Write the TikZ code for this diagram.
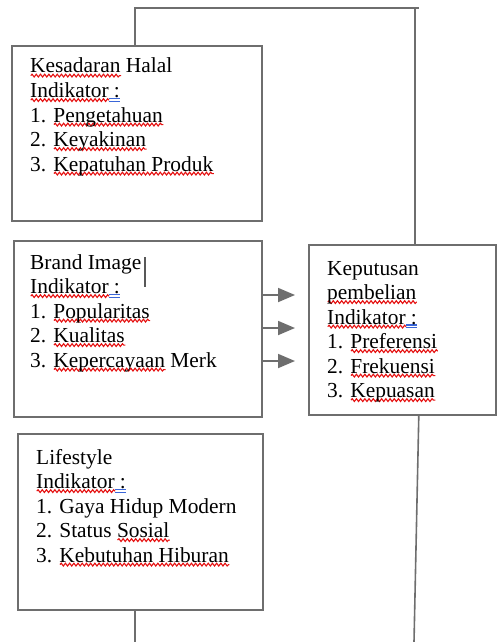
\documentclass[tikz,border=0pt]{standalone}
\usepackage{fontspec}
\setmainfont{Liberation Serif}
\usetikzlibrary{arrows.meta,decorations.pathmorphing}
\definecolor{linegray}{HTML}{6E6E6E}
\definecolor{sqred}{HTML}{E51010}
\definecolor{gblue}{HTML}{3A66D8}
\newdimen\sqw
\newsavebox\sqbox
\newcommand\sq[1]{\leavevmode\sbox\sqbox{#1}\sqw=\wd\sqbox\rlap{\smash{\tikz[baseline=0pt]\draw[sqred, line width=1.1pt, decorate, decoration={snake, amplitude=1.4pt, segment length=4.2pt}] (0pt,-2.6pt) -- (\the\sqw,-2.6pt);}}\usebox\sqbox}
\newcommand\bu[1]{\leavevmode\sbox\sqbox{#1}\sqw=\wd\sqbox\rlap{\textcolor{gblue}{\rlap{\rule[-1.5pt]{\sqw}{1.1pt}}\rule[-4.3pt]{\sqw}{1.1pt}}}\usebox\sqbox}
\tikzset{
  box/.style={draw=linegray, line width=1.6pt, anchor=north west, inner sep=0pt},
  txt/.style={anchor=base west, inner sep=0pt, font=\fontsize{21.4}{24.5}\selectfont},
  conn/.style={draw=linegray, line width=1.6pt},
  arr/.style={draw=linegray, line width=1.8pt, -{Triangle[length=17pt,width=14pt]}, fill=linegray}
}
\newcommand\txtblock[1]{\begin{minipage}[t]{270pt}\lineskiplimit=-20pt\raggedright #1\end{minipage}}
\begin{document}
\begin{tikzpicture}[x=1pt,y=-1pt]
\useasboundingbox (0,0) rectangle (496,642);
% boxes
\node[box, minimum width=250pt, minimum height=175pt] (b1) at (11,45) {};
\node[box, minimum width=248pt, minimum height=176pt] (b2) at (13,240) {};
\node[box, minimum width=187pt, minimum height=170pt] (kp) at (308,244) {};
\node[box, minimum width=245pt, minimum height=176pt] (b3) at (17,433) {};
% texts
\node[txt] (t1) at (30,73) {\txtblock{\sq{Kesadaran} Halal\\
\sq{Indikator}\bu{\ :}\\
1. \sq{Pengetahuan}\\
2. \sq{Keyakinan}\\
3. \sq{Kepatuhan Produk}}};
\node[txt] (t2) at (30,269) {\txtblock{Brand Image\\
\sq{Indikator}\bu{\ :}\\
1. \sq{Popularitas}\\
2. \sq{Kualitas}\\
3. \sq{Kepercayaan} Merk}};
\node[txt] (tk) at (327,275) {\txtblock{Keputusan\\
\sq{pembelian}\\
\sq{Indikator}\bu{\ :}\\
1. \sq{Preferensi}\\
2. \sq{Frekuensi}\\
3. \sq{Kepuasan}}};
\node[txt] (t3) at (36,464) {\txtblock{Lifestyle\\
\sq{Indikator}\bu{\ :}\\
1. Gaya Hidup Modern\\
2. Status \sq{Sosial}\\
3. \sq{Kebutuhan Hiburan}}};
% text cursor
\coordinate (cur1) at (145,257);
\coordinate (cur2) at (145,287);
\draw[draw=linegray!80!black, line width=1.5pt] (cur1) -- (cur2);
% arrows
\coordinate (a1) at (295,295);
\coordinate (a2) at (295,328);
\coordinate (a3) at (295,361);
\draw[arr] (b2.east |- a1) -- (a1);
\draw[arr] (b2.east |- a2) -- (a2);
\draw[arr] (b2.east |- a3) -- (a3);
% connector lines
\coordinate (c1) at (135,8);
\coordinate (c2) at (419,8);
\coordinate (c3) at (415,8);
\draw[conn] (c1 |- b1.north) -- (c1) -- (c2);
\draw[conn] (c3) -- (c3 |- kp.north);
\coordinate (d1) at (135,642);
\coordinate (d2) at (414,642);
\draw[conn] (d1 |- b3.south) -- (d1);
\draw[conn] ([xshift=16.5pt]kp.south) -- (d2);
\end{tikzpicture}
\end{document}
